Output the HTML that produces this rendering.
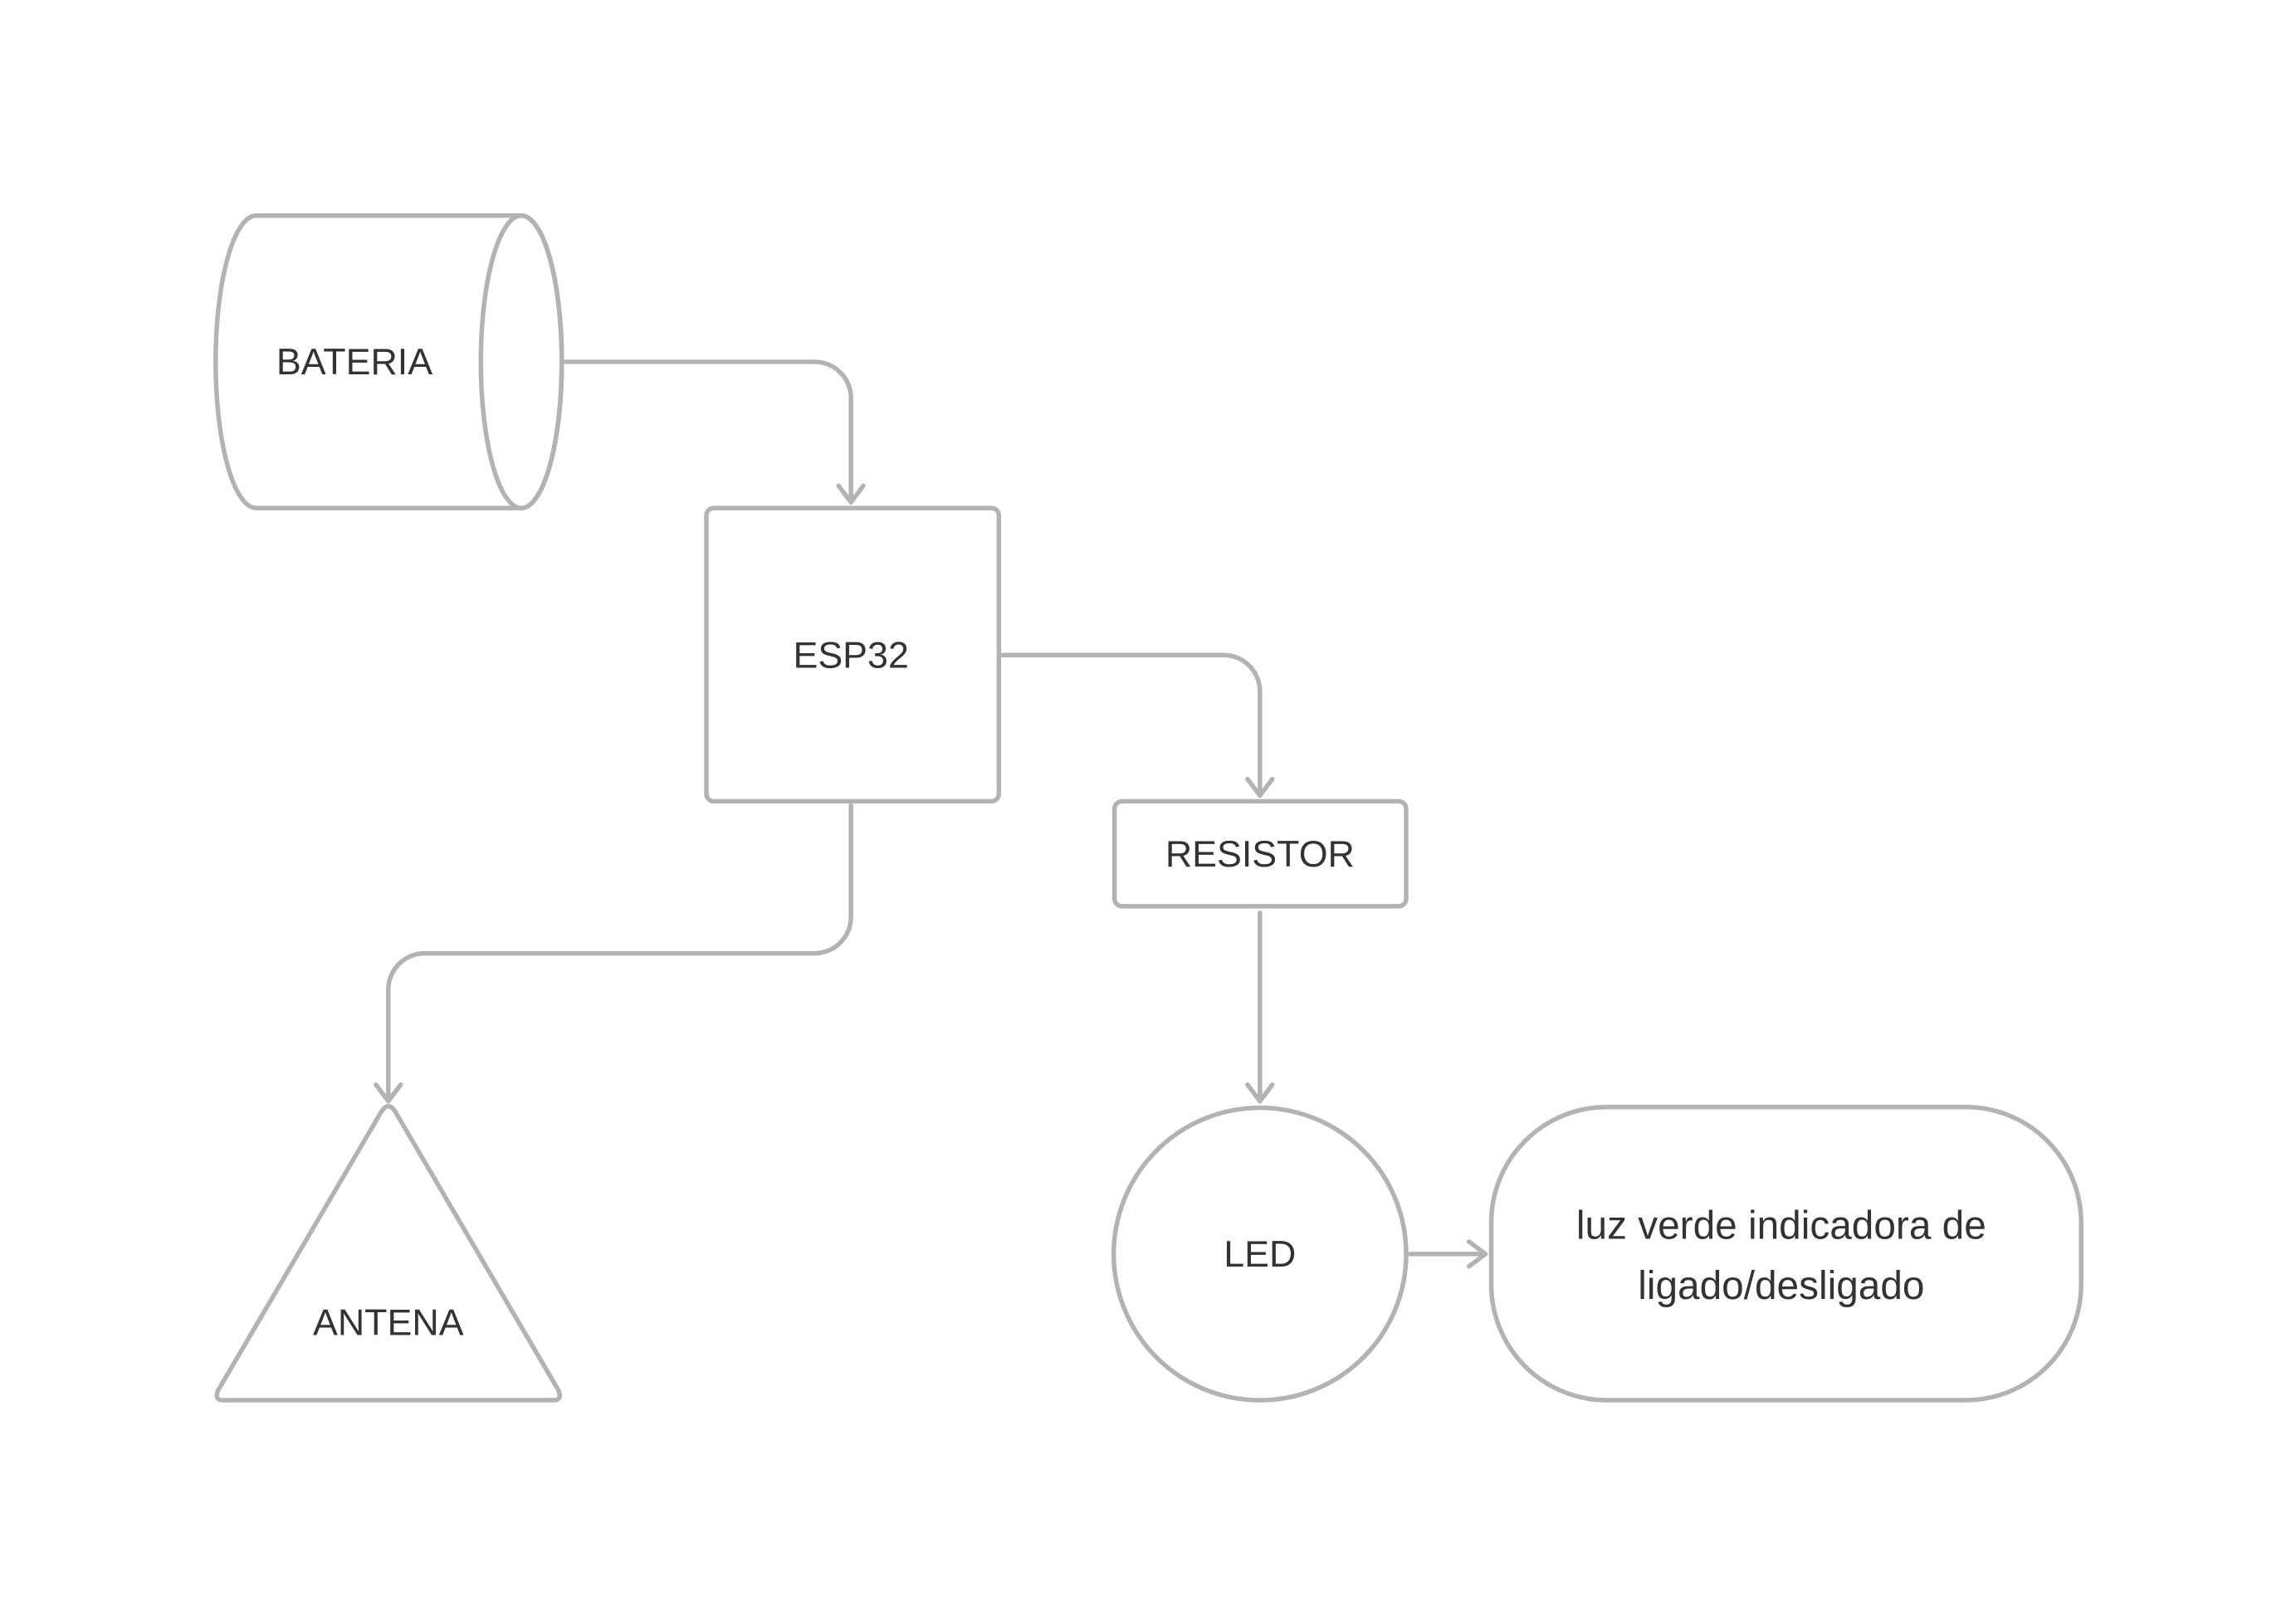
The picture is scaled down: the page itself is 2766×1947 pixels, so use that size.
<!DOCTYPE html>
<html><head><meta charset="utf-8"><style>
html,body{margin:0;padding:0;background:#fff;}
svg{display:block}
text{font-family:"Liberation Sans",sans-serif;font-size:45px;fill:#333;text-anchor:middle;dominant-baseline:central}
</style></head><body>
<svg width="2766" height="1947" viewBox="0 0 2766 1947" xmlns="http://www.w3.org/2000/svg">
<rect width="2766" height="1947" fill="#fff"/>
<g transform="scale(0.9953)">
<g fill="none" stroke="#b3b3b3" stroke-width="5.5" stroke-linecap="round" stroke-linejoin="round">
<path d="M310 261 L631 261 A49 177 0 0 1 631 615 L310 615 A49 177 0 0 1 310 261 Z" fill="#fff"/>
<ellipse cx="631" cy="438" rx="49" ry="177"/>
<rect x="855" y="615" width="354" height="355" rx="9"/>
<rect x="1349" y="970" width="353" height="127" rx="9"/>
<path d="M462 1345 Q470 1333 478 1345 L676 1683 Q681 1695 670 1695 L270 1695 Q259 1695 264 1683 Z"/>
<circle cx="1525" cy="1518" r="177"/>
<rect x="1805" y="1340" width="714" height="355" rx="140"/>
<path d="M684 438 L986 438 A44 44 0 0 1 1030 482 L1030 608"/>
<path d="M1015 588 L1030 608 L1045 588"/>
<path d="M1213 793 L1481 793 A44 44 0 0 1 1525 837 L1525 963"/>
<path d="M1510 943 L1525 963 L1540 943"/>
<path d="M1030 975 L1030 1110 A44 44 0 0 1 986 1154 L514 1154 A44 44 0 0 0 470 1198 L470 1333"/>
<path d="M455 1313 L470 1333 L485 1313"/>
<path d="M1525 1105 L1525 1333"/>
<path d="M1510 1313 L1525 1333 L1540 1313"/>
<path d="M1707 1518 L1798 1518"/>
<path d="M1778 1503 L1798 1518 L1778 1533"/>
</g>
<text x="429" y="438">BATERIA</text>
<text x="1030" y="793">ESP32</text>
<text x="1525" y="1034">RESISTOR</text>
<text x="470" y="1601">ANTENA</text>
<text x="1525" y="1518">LED</text>
<text x="2156" y="1484" style="font-size:48px">luz verde indicadora de</text>
<text x="2156" y="1557" style="font-size:48px">ligado/desligado</text>
</g>
</svg>
</body></html>
